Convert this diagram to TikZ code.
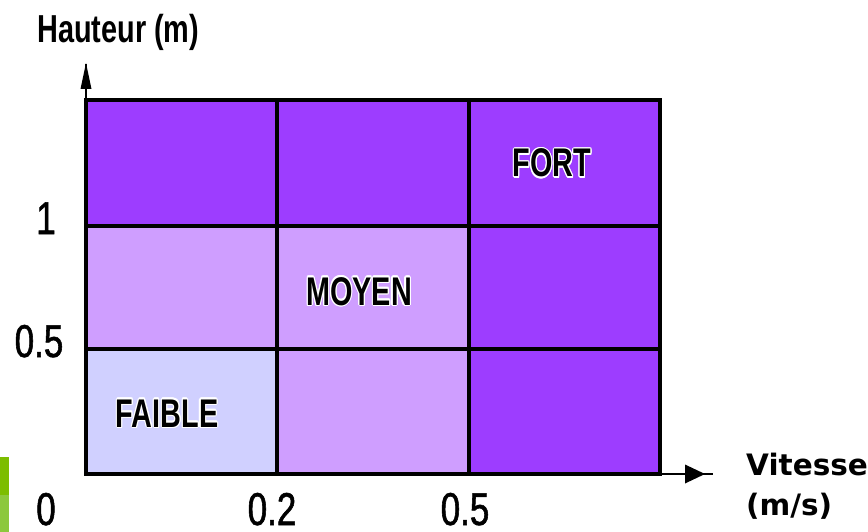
\documentclass[tikz,border=0pt]{standalone}
\usepackage{fontspec}
\usepackage{contour}
\contourlength{1.1pt}
\newfontfamily\narrowfont[FakeStretch=0.72]{Liberation Sans}
\newfontfamily\titlefont[FakeStretch=0.74]{Liberation Sans}
\newfontfamily\numfont[FakeStretch=0.76,FakeBold=1.2]{Liberation Sans}
\newfontfamily\dejavufont{DejaVu Sans}
\definecolor{darkp}{HTML}{9D3DFF}
\definecolor{midp}{HTML}{CF9EFF}
\definecolor{lightp}{HTML}{D0D0FF}
\definecolor{greenA}{HTML}{7CBD00}
\definecolor{greenB}{HTML}{8CC83C}
\tikzset{
  gridline/.style={line width=4.5pt, line cap=rect},
  axisline/.style={line width=2.6pt},
  arrowtri/.style={fill=black},
  numlab/.style={inner sep=0pt, text depth=0pt, font=\numfont\fontsize{46}{50}\selectfont},
  titlelab/.style={inner sep=0pt, font=\titlefont\bfseries\fontsize{39}{42}\selectfont},
  zonelab/.style={inner sep=0pt, font=\narrowfont\bfseries\fontsize{40}{44}\selectfont},
  speedlab/.style={inner sep=0pt, anchor=base west, font=\dejavufont\bfseries\fontsize{29.5}{33}\selectfont}
}
\begin{document}
\begin{tikzpicture}[x=1pt,y=-1pt]
\useasboundingbox (0,0) rectangle (868,532);
% green bar at left
\fill[greenA] (0,457) rectangle (9,495);
\fill[greenB] (0,495) rectangle (9,532);
% cells
\fill[darkp] (86,100) rectangle (660,226);
\fill[midp] (86,226) rectangle (469,349);
\fill[darkp] (469,226) rectangle (660,474);
\fill[lightp] (86,349) rectangle (277,474);
\fill[midp] (277,349) rectangle (469,474);
% axes
\coordinate (O) at (86,474);
\coordinate (ytop) at (86,64);
\coordinate (xend) at (713,474);
\draw[axisline] (O) -- (ytop);
\draw[axisline] (O) -- (xend);
\fill[arrowtri] (80.5,89) -- (86,63) -- (91.5,89) -- cycle;
\fill[arrowtri] (685,464.5) -- (705,474) -- (685,483.5) -- cycle;
% grid
\draw[gridline] (86,100) rectangle (660,474);
\draw[gridline] (277,100) -- (277,474);
\draw[gridline] (469,100) -- (469,474);
\draw[gridline] (86,226) -- (660,226);
\draw[gridline] (86,349) -- (660,349);
% labels
\node[titlelab, anchor=base west] (hauteur) at (37,43) {Hauteur (m)};
\node[numlab, anchor=base] (yone) at (46,234) {1};
\node[numlab, anchor=base] (yhalf) at (39,357) {0.5};
\node[numlab, anchor=base] (zero) at (46,525) {0};
\node[numlab, anchor=base] (xa) at (272,525) {0.2};
\node[numlab, anchor=base] (xb) at (465,525) {0.5};
\node[speedlab] (vitesse) at (746,475) {Vitesse};
\node[speedlab] (unit) at (746,515) {(m/s)};
\node[zonelab, anchor=base] (faible) at (167,427) {\contour{white}{FAIBLE}};
\node[zonelab, anchor=base] (moyen) at (359,305) {\contour{white}{MOYEN}};
\node[zonelab, anchor=base] (fort) at (552,177) {\contour{white}{FORT}};
\end{tikzpicture}
\end{document}
